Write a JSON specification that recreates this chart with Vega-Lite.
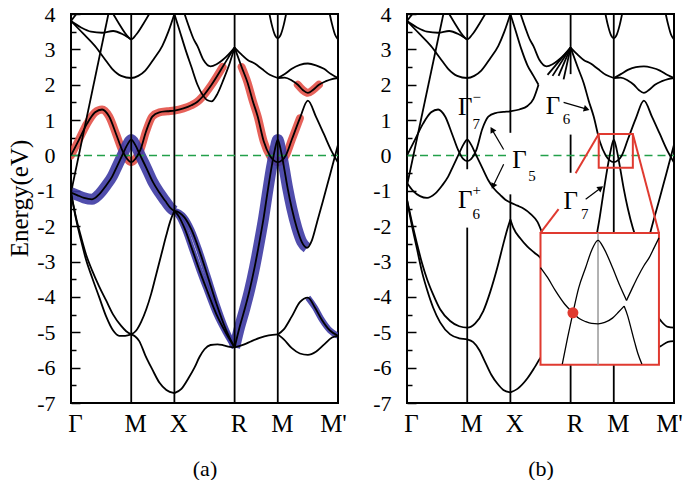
{
"$schema":"https://vega.github.io/schema/vega-lite/v6.json",
"padding":{"left":6,"top":2,"right":0,"bottom":0},
"config":{"view":{"stroke":"black","strokeWidth":2},"axis":{"labelFont":"Liberation Serif","titleFont":"Liberation Serif","labelColor":"#000","titleColor":"#000","grid":false,"domain":false,"tickColor":"#000","titleFontWeight":"normal"},"text":{"font":"Liberation Serif"}},
"datasets":{
"bands":[
{"p":"a","s":"a1","k":0,"e":0},{"p":"a","s":"a1","k":8,"e":0.45},{"p":"a","s":"a1","k":16,"e":0.9},{"p":"a","s":"a1","k":24,"e":1.22},{"p":"a","s":"a1","k":31,"e":1.3},{"p":"a","s":"a1","k":38,"e":1.1},{"p":"a","s":"a1","k":45,"e":0.6},{"p":"a","s":"a1","k":51,"e":0.15},{"p":"a","s":"a1","k":56,"e":-0.1},{"p":"a","s":"a1","k":60,"e":-0.19},{"p":"a","s":"a1","k":64,"e":-0.1},{"p":"a","s":"a1","k":69,"e":0.15},{"p":"a","s":"a1","k":75,"e":0.7},{"p":"a","s":"a1","k":81,"e":1.1},{"p":"a","s":"a1","k":88,"e":1.22},{"p":"a","s":"a1","k":96,"e":1.25},{"p":"a","s":"a1","k":103,"e":1.27},{"p":"a","s":"a1","k":112,"e":1.33},{"p":"a","s":"a1","k":120,"e":1.42},{"p":"a","s":"a1","k":126,"e":1.52},{"p":"a","s":"a1","k":131,"e":1.66},{"p":"a","s":"a1","k":140,"e":2.0},{"p":"a","s":"a1","k":151,"e":2.5},{"p":"a","s":"a1","k":157,"e":2.78},{"p":"a","s":"a1","k":163,"e":3.05},
{"p":"a","s":"a2","k":163,"e":3.05},{"p":"a","s":"a2","k":170,"e":2.5},{"p":"a","s":"a2","k":176,"e":2.05},{"p":"a","s":"a2","k":181,"e":1.55},{"p":"a","s":"a2","k":186,"e":1.1},{"p":"a","s":"a2","k":192,"e":0.4},{"p":"a","s":"a2","k":198,"e":0},{"p":"a","s":"a2","k":202,"e":-0.14},{"p":"a","s":"a2","k":206,"e":-0.19},{"p":"a","s":"a2","k":210,"e":-0.14},{"p":"a","s":"a2","k":214,"e":0},{"p":"a","s":"a2","k":220,"e":0.45},{"p":"a","s":"a2","k":228,"e":1.05},{"p":"a","s":"a2","k":236,"e":1.55},{"p":"a","s":"a2","k":244,"e":1.1},{"p":"a","s":"a2","k":252,"e":0.6},{"p":"a","s":"a2","k":260,"e":0.1},{"p":"a","s":"a2","k":266,"e":-0.2},
{"p":"a","s":"a3","k":0,"e":-1.05},{"p":"a","s":"a3","k":6,"e":-1.12},{"p":"a","s":"a3","k":13,"e":-1.2},{"p":"a","s":"a3","k":21,"e":-1.24},{"p":"a","s":"a3","k":28,"e":-1.1},{"p":"a","s":"a3","k":35,"e":-0.85},{"p":"a","s":"a3","k":41,"e":-0.6},{"p":"a","s":"a3","k":46,"e":-0.3},{"p":"a","s":"a3","k":51,"e":0},{"p":"a","s":"a3","k":56,"e":0.3},{"p":"a","s":"a3","k":60,"e":0.45},{"p":"a","s":"a3","k":64,"e":0.3},{"p":"a","s":"a3","k":69,"e":0},{"p":"a","s":"a3","k":75,"e":-0.35},{"p":"a","s":"a3","k":81,"e":-0.72},{"p":"a","s":"a3","k":88,"e":-1.05},{"p":"a","s":"a3","k":94,"e":-1.29},{"p":"a","s":"a3","k":99,"e":-1.48},{"p":"a","s":"a3","k":103,"e":-1.57},
{"p":"a","s":"a4","k":103,"e":-1.57},{"p":"a","s":"a4","k":108,"e":-1.62},{"p":"a","s":"a4","k":113,"e":-1.75},{"p":"a","s":"a4","k":120,"e":-2.1},{"p":"a","s":"a4","k":128,"e":-2.7},{"p":"a","s":"a4","k":136,"e":-3.4},{"p":"a","s":"a4","k":145,"e":-4.2},{"p":"a","s":"a4","k":154,"e":-4.9},{"p":"a","s":"a4","k":163,"e":-5.43},
{"p":"a","s":"a5","k":103,"e":-1.57},{"p":"a","s":"a5","k":108,"e":-1.75},{"p":"a","s":"a5","k":113,"e":-2.05},{"p":"a","s":"a5","k":120,"e":-2.6},{"p":"a","s":"a5","k":128,"e":-3.25},{"p":"a","s":"a5","k":136,"e":-3.85},{"p":"a","s":"a5","k":145,"e":-4.5},{"p":"a","s":"a5","k":154,"e":-5.0},{"p":"a","s":"a5","k":163,"e":-5.43},
{"p":"a","s":"a6","k":163,"e":-5.43},{"p":"a","s":"a6","k":168,"e":-4.85},{"p":"a","s":"a6","k":173,"e":-4.35},{"p":"a","s":"a6","k":178,"e":-3.8},{"p":"a","s":"a6","k":183,"e":-3.15},{"p":"a","s":"a6","k":188,"e":-2.4},{"p":"a","s":"a6","k":192,"e":-1.75},{"p":"a","s":"a6","k":196,"e":-1.0},{"p":"a","s":"a6","k":200,"e":-0.3},{"p":"a","s":"a6","k":203,"e":0.15},{"p":"a","s":"a6","k":206,"e":0.45},{"p":"a","s":"a6","k":209,"e":0.15},{"p":"a","s":"a6","k":212,"e":-0.3},{"p":"a","s":"a6","k":216,"e":-0.95},{"p":"a","s":"a6","k":220,"e":-1.5},{"p":"a","s":"a6","k":225,"e":-2.05},{"p":"a","s":"a6","k":230,"e":-2.45},{"p":"a","s":"a6","k":235,"e":-2.61},{"p":"a","s":"a6","k":240,"e":-2.4},{"p":"a","s":"a6","k":245,"e":-1.9},{"p":"a","s":"a6","k":251,"e":-1.29},{"p":"a","s":"a6","k":258,"e":-0.55},{"p":"a","s":"a6","k":266,"e":0.3},
{"p":"a","s":"a7","k":0,"e":-1.05},{"p":"a","s":"a7","k":5,"e":-1.8},{"p":"a","s":"a7","k":10,"e":-2.4},{"p":"a","s":"a7","k":15,"e":-2.95},{"p":"a","s":"a7","k":21,"e":-3.45},{"p":"a","s":"a7","k":28,"e":-4.0},{"p":"a","s":"a7","k":35,"e":-4.55},{"p":"a","s":"a7","k":42,"e":-4.95},{"p":"a","s":"a7","k":48,"e":-5.1},{"p":"a","s":"a7","k":54,"e":-5.1},{"p":"a","s":"a7","k":60,"e":-5.06},
{"p":"a","s":"a8","k":0,"e":-1.05},{"p":"a","s":"a8","k":5,"e":-1.75},{"p":"a","s":"a8","k":10,"e":-2.3},{"p":"a","s":"a8","k":15,"e":-2.8},{"p":"a","s":"a8","k":21,"e":-3.25},{"p":"a","s":"a8","k":28,"e":-3.7},{"p":"a","s":"a8","k":35,"e":-4.1},{"p":"a","s":"a8","k":42,"e":-4.5},{"p":"a","s":"a8","k":50,"e":-4.82},{"p":"a","s":"a8","k":55,"e":-4.97},{"p":"a","s":"a8","k":60,"e":-5.06},
{"p":"a","s":"a9","k":60,"e":-5.06},{"p":"a","s":"a9","k":65,"e":-4.95},{"p":"a","s":"a9","k":70,"e":-4.7},{"p":"a","s":"a9","k":75,"e":-4.35},{"p":"a","s":"a9","k":80,"e":-3.9},{"p":"a","s":"a9","k":85,"e":-3.35},{"p":"a","s":"a9","k":90,"e":-2.8},{"p":"a","s":"a9","k":95,"e":-2.25},{"p":"a","s":"a9","k":99,"e":-1.85},{"p":"a","s":"a9","k":103,"e":-1.57},
{"p":"a","s":"a10","k":60,"e":-5.06},{"p":"a","s":"a10","k":64,"e":-5.12},{"p":"a","s":"a10","k":68,"e":-5.25},{"p":"a","s":"a10","k":74,"e":-5.65},{"p":"a","s":"a10","k":81,"e":-6.05},{"p":"a","s":"a10","k":88,"e":-6.42},{"p":"a","s":"a10","k":95,"e":-6.63},{"p":"a","s":"a10","k":103,"e":-6.72},
{"p":"a","s":"a11","k":103,"e":-6.72},{"p":"a","s":"a11","k":110,"e":-6.6},{"p":"a","s":"a11","k":117,"e":-6.3},{"p":"a","s":"a11","k":123,"e":-6.0},{"p":"a","s":"a11","k":128,"e":-5.7},{"p":"a","s":"a11","k":133,"e":-5.48},{"p":"a","s":"a11","k":139,"e":-5.36},{"p":"a","s":"a11","k":146,"e":-5.34},{"p":"a","s":"a11","k":152,"e":-5.37},{"p":"a","s":"a11","k":158,"e":-5.41},{"p":"a","s":"a11","k":163,"e":-5.43},
{"p":"a","s":"a12","k":163,"e":-5.43},{"p":"a","s":"a12","k":172,"e":-5.35},{"p":"a","s":"a12","k":180,"e":-5.25},{"p":"a","s":"a12","k":188,"e":-5.16},{"p":"a","s":"a12","k":197,"e":-5.09},{"p":"a","s":"a12","k":206,"e":-5.06},
{"p":"a","s":"a13","k":206,"e":-5.06},{"p":"a","s":"a13","k":212,"e":-5.2},{"p":"a","s":"a13","k":220,"e":-5.45},{"p":"a","s":"a13","k":228,"e":-5.6},{"p":"a","s":"a13","k":236,"e":-5.64},{"p":"a","s":"a13","k":244,"e":-5.55},{"p":"a","s":"a13","k":252,"e":-5.35},{"p":"a","s":"a13","k":260,"e":-5.15},{"p":"a","s":"a13","k":266,"e":-5.1},
{"p":"a","s":"a14","k":206,"e":-5.06},{"p":"a","s":"a14","k":212,"e":-4.92},{"p":"a","s":"a14","k":220,"e":-4.55},{"p":"a","s":"a14","k":228,"e":-4.15},{"p":"a","s":"a14","k":236,"e":-4.02},{"p":"a","s":"a14","k":243,"e":-4.3},{"p":"a","s":"a14","k":250,"e":-4.65},{"p":"a","s":"a14","k":258,"e":-4.95},{"p":"a","s":"a14","k":266,"e":-5.1},
{"p":"a","s":"a15","k":0,"e":-1.05},{"p":"a","s":"a15","k":38,"e":4.1},
{"p":"a","s":"a16","k":0,"e":3.8},{"p":"a","s":"a16","k":10,"e":3.62},{"p":"a","s":"a16","k":20,"e":3.5},{"p":"a","s":"a16","k":31,"e":3.47},{"p":"a","s":"a16","k":42,"e":3.52},{"p":"a","s":"a16","k":52,"e":3.42},{"p":"a","s":"a16","k":60,"e":3.28},
{"p":"a","s":"a17","k":40,"e":4.1},{"p":"a","s":"a17","k":48,"e":3.72},{"p":"a","s":"a17","k":55,"e":3.42},{"p":"a","s":"a17","k":60,"e":3.28},{"p":"a","s":"a17","k":65,"e":3.42},{"p":"a","s":"a17","k":72,"e":3.72},{"p":"a","s":"a17","k":80,"e":4.1},
{"p":"a","s":"a18","k":0,"e":3.8},{"p":"a","s":"a18","k":12,"e":3.45},{"p":"a","s":"a18","k":24,"e":3.09},{"p":"a","s":"a18","k":33,"e":2.75},{"p":"a","s":"a18","k":41,"e":2.45},{"p":"a","s":"a18","k":50,"e":2.25},{"p":"a","s":"a18","k":60,"e":2.19},{"p":"a","s":"a18","k":67,"e":2.25},{"p":"a","s":"a18","k":74,"e":2.4},{"p":"a","s":"a18","k":83,"e":2.75},{"p":"a","s":"a18","k":91,"e":3.1},{"p":"a","s":"a18","k":97,"e":3.5},{"p":"a","s":"a18","k":103,"e":4.0},
{"p":"a","s":"a19","k":103,"e":4.0},{"p":"a","s":"a19","k":108,"e":3.55},{"p":"a","s":"a19","k":114,"e":3.0},{"p":"a","s":"a19","k":120,"e":2.5},{"p":"a","s":"a19","k":126,"e":2.0},{"p":"a","s":"a19","k":131,"e":1.72},{"p":"a","s":"a19","k":136,"e":1.56},{"p":"a","s":"a19","k":140,"e":1.53},{"p":"a","s":"a19","k":146,"e":1.75},{"p":"a","s":"a19","k":152,"e":2.15},{"p":"a","s":"a19","k":158,"e":2.6},{"p":"a","s":"a19","k":163,"e":3.05},
{"p":"a","s":"a20","k":112,"e":4.1},{"p":"a","s":"a20","k":118,"e":3.6},{"p":"a","s":"a20","k":122,"e":3.3},{"p":"a","s":"a20","k":126,"e":3.09},{"p":"a","s":"a20","k":132,"e":2.7},{"p":"a","s":"a20","k":139,"e":2.52},{"p":"a","s":"a20","k":145,"e":2.58},{"p":"a","s":"a20","k":151,"e":2.7},{"p":"a","s":"a20","k":157,"e":2.86},{"p":"a","s":"a20","k":163,"e":3.05},
{"p":"a","s":"a21","k":163,"e":3.05},{"p":"a","s":"a21","k":170,"e":2.85},{"p":"a","s":"a21","k":176,"e":2.7},{"p":"a","s":"a21","k":183,"e":2.6},{"p":"a","s":"a21","k":190,"e":2.45},{"p":"a","s":"a21","k":198,"e":2.28},{"p":"a","s":"a21","k":206,"e":2.19},
{"p":"a","s":"a22","k":206,"e":2.19},{"p":"a","s":"a22","k":213,"e":2.3},{"p":"a","s":"a22","k":220,"e":2.45},{"p":"a","s":"a22","k":228,"e":2.56},{"p":"a","s":"a22","k":236,"e":2.6},{"p":"a","s":"a22","k":244,"e":2.55},{"p":"a","s":"a22","k":252,"e":2.45},{"p":"a","s":"a22","k":259,"e":2.3},{"p":"a","s":"a22","k":266,"e":2.19},
{"p":"a","s":"a23","k":206,"e":2.19},{"p":"a","s":"a23","k":213,"e":2.2},{"p":"a","s":"a23","k":220,"e":2.12},{"p":"a","s":"a23","k":226,"e":2.0},{"p":"a","s":"a23","k":231,"e":1.85},{"p":"a","s":"a23","k":236,"e":1.77},{"p":"a","s":"a23","k":241,"e":1.85},{"p":"a","s":"a23","k":247,"e":2.0},{"p":"a","s":"a23","k":254,"e":2.1},{"p":"a","s":"a23","k":260,"e":2.16},{"p":"a","s":"a23","k":266,"e":2.19},
{"p":"a","s":"a24","k":197,"e":4.1},{"p":"a","s":"a24","k":200,"e":3.7},{"p":"a","s":"a24","k":203,"e":3.42},{"p":"a","s":"a24","k":206,"e":3.32},{"p":"a","s":"a24","k":209,"e":3.42},{"p":"a","s":"a24","k":212,"e":3.7},{"p":"a","s":"a24","k":215,"e":4.1},
{"p":"a","s":"a25","k":257,"e":4.1},{"p":"a","s":"a25","k":260,"e":3.72},{"p":"a","s":"a25","k":263,"e":3.42},{"p":"a","s":"a25","k":266,"e":3.28},
{"p":"a","s":"a26","k":0,"e":3.8},{"p":"a","s":"a26","k":8,"e":4.1},

{"p":"b","s":"b1","k":0,"e":0},{"p":"b","s":"b1","k":8,"e":0.45},{"p":"b","s":"b1","k":16,"e":0.9},{"p":"b","s":"b1","k":24,"e":1.22},{"p":"b","s":"b1","k":31,"e":1.3},{"p":"b","s":"b1","k":38,"e":1.1},{"p":"b","s":"b1","k":45,"e":0.6},{"p":"b","s":"b1","k":51,"e":0.15},{"p":"b","s":"b1","k":56,"e":-0.1},{"p":"b","s":"b1","k":60,"e":-0.16},{"p":"b","s":"b1","k":64,"e":-0.1},{"p":"b","s":"b1","k":69,"e":0.15},{"p":"b","s":"b1","k":75,"e":0.75},{"p":"b","s":"b1","k":81,"e":1.1},{"p":"b","s":"b1","k":88,"e":1.2},{"p":"b","s":"b1","k":96,"e":1.23},{"p":"b","s":"b1","k":103,"e":1.25},{"p":"b","s":"b1","k":112,"e":1.3},{"p":"b","s":"b1","k":120,"e":1.4},{"p":"b","s":"b1","k":126,"e":1.6},{"p":"b","s":"b1","k":131,"e":2.0},
{"p":"b","s":"b2","k":163,"e":3.05},{"p":"b","s":"b2","k":170,"e":2.5},{"p":"b","s":"b2","k":176,"e":2.05},{"p":"b","s":"b2","k":181,"e":1.55},{"p":"b","s":"b2","k":186,"e":1.1},{"p":"b","s":"b2","k":192,"e":0.4},{"p":"b","s":"b2","k":198,"e":0},{"p":"b","s":"b2","k":202,"e":-0.14},{"p":"b","s":"b2","k":206,"e":-0.19},{"p":"b","s":"b2","k":210,"e":-0.14},{"p":"b","s":"b2","k":214,"e":0},{"p":"b","s":"b2","k":220,"e":0.45},{"p":"b","s":"b2","k":228,"e":1.05},{"p":"b","s":"b2","k":236,"e":1.55},{"p":"b","s":"b2","k":244,"e":1.1},{"p":"b","s":"b2","k":252,"e":0.6},{"p":"b","s":"b2","k":260,"e":0.1},{"p":"b","s":"b2","k":266,"e":-0.2},
{"p":"b","s":"b3","k":0,"e":-0.78},{"p":"b","s":"b3","k":6,"e":-1.0},{"p":"b","s":"b3","k":13,"e":-1.15},{"p":"b","s":"b3","k":20,"e":-1.2},{"p":"b","s":"b3","k":28,"e":-1.08},{"p":"b","s":"b3","k":35,"e":-0.85},{"p":"b","s":"b3","k":41,"e":-0.6},{"p":"b","s":"b3","k":46,"e":-0.3},{"p":"b","s":"b3","k":51,"e":0},{"p":"b","s":"b3","k":56,"e":0.3},{"p":"b","s":"b3","k":60,"e":0.45},{"p":"b","s":"b3","k":64,"e":0.3},{"p":"b","s":"b3","k":69,"e":0},{"p":"b","s":"b3","k":75,"e":-0.35},{"p":"b","s":"b3","k":81,"e":-0.7},{"p":"b","s":"b3","k":87,"e":-0.95},{"p":"b","s":"b3","k":93,"e":-1.12},{"p":"b","s":"b3","k":98,"e":-1.25},{"p":"b","s":"b3","k":103,"e":-1.33},{"p":"b","s":"b3","k":110,"e":-1.42},{"p":"b","s":"b3","k":116,"e":-1.5},{"p":"b","s":"b3","k":123,"e":-1.65},{"p":"b","s":"b3","k":130,"e":-1.88},{"p":"b","s":"b3","k":136,"e":-2.3},{"p":"b","s":"b3","k":142,"e":-2.8},
{"p":"b","s":"b4","k":103,"e":-1.81},{"p":"b","s":"b4","k":106,"e":-2.05},{"p":"b","s":"b4","k":113,"e":-2.35},{"p":"b","s":"b4","k":120,"e":-2.58},{"p":"b","s":"b4","k":127,"e":-2.75},{"p":"b","s":"b4","k":133,"e":-2.9},{"p":"b","s":"b4","k":140,"e":-3.3},
{"p":"b","s":"b5","k":0,"e":-1.25},{"p":"b","s":"b5","k":5,"e":-1.9},{"p":"b","s":"b5","k":10,"e":-2.5},{"p":"b","s":"b5","k":15,"e":-3.05},{"p":"b","s":"b5","k":20,"e":-3.5},{"p":"b","s":"b5","k":26,"e":-3.93},{"p":"b","s":"b5","k":33,"e":-4.35},{"p":"b","s":"b5","k":43,"e":-4.68},{"p":"b","s":"b5","k":52,"e":-4.83},{"p":"b","s":"b5","k":60,"e":-4.87},{"p":"b","s":"b5","k":68,"e":-4.75},{"p":"b","s":"b5","k":76,"e":-4.4},{"p":"b","s":"b5","k":83,"e":-3.85},{"p":"b","s":"b5","k":90,"e":-3.17},{"p":"b","s":"b5","k":96,"e":-2.5},{"p":"b","s":"b5","k":100,"e":-2.08},{"p":"b","s":"b5","k":103,"e":-1.81},
{"p":"b","s":"b6","k":0,"e":-1.25},{"p":"b","s":"b6","k":5,"e":-2.0},{"p":"b","s":"b6","k":10,"e":-2.65},{"p":"b","s":"b6","k":15,"e":-3.3},{"p":"b","s":"b6","k":20,"e":-3.8},{"p":"b","s":"b6","k":26,"e":-4.3},{"p":"b","s":"b6","k":33,"e":-4.72},{"p":"b","s":"b6","k":43,"e":-5.06},{"p":"b","s":"b6","k":52,"e":-5.17},{"p":"b","s":"b6","k":60,"e":-5.2},{"p":"b","s":"b6","k":66,"e":-5.28},{"p":"b","s":"b6","k":72,"e":-5.5},{"p":"b","s":"b6","k":78,"e":-5.85},{"p":"b","s":"b6","k":84,"e":-6.2},{"p":"b","s":"b6","k":90,"e":-6.45},{"p":"b","s":"b6","k":96,"e":-6.63},{"p":"b","s":"b6","k":103,"e":-6.7},
{"p":"b","s":"b7","k":103,"e":-6.7},{"p":"b","s":"b7","k":110,"e":-6.6},{"p":"b","s":"b7","k":120,"e":-6.3},{"p":"b","s":"b7","k":127,"e":-6.0},{"p":"b","s":"b7","k":133,"e":-5.72},{"p":"b","s":"b7","k":140,"e":-5.5},
{"p":"b","s":"b8","k":163,"e":-5.43},{"p":"b","s":"b8","k":168,"e":-4.85},{"p":"b","s":"b8","k":173,"e":-4.35},{"p":"b","s":"b8","k":178,"e":-3.8},{"p":"b","s":"b8","k":183,"e":-3.15},{"p":"b","s":"b8","k":188,"e":-2.4},{"p":"b","s":"b8","k":192,"e":-1.75},{"p":"b","s":"b8","k":196,"e":-1.0},{"p":"b","s":"b8","k":200,"e":-0.3},{"p":"b","s":"b8","k":203,"e":0.15},{"p":"b","s":"b8","k":206,"e":0.45},{"p":"b","s":"b8","k":209,"e":0.15},{"p":"b","s":"b8","k":212,"e":-0.3},{"p":"b","s":"b8","k":216,"e":-0.95},{"p":"b","s":"b8","k":220,"e":-1.5},{"p":"b","s":"b8","k":225,"e":-2.05},{"p":"b","s":"b8","k":230,"e":-2.45},{"p":"b","s":"b8","k":235,"e":-2.61},{"p":"b","s":"b8","k":240,"e":-2.4},{"p":"b","s":"b8","k":245,"e":-1.9},{"p":"b","s":"b8","k":251,"e":-1.29},{"p":"b","s":"b8","k":258,"e":-0.55},{"p":"b","s":"b8","k":266,"e":0.3},
{"p":"b","s":"b9","k":206,"e":-4.87},{"p":"b","s":"b9","k":220,"e":-4.3},{"p":"b","s":"b9","k":236,"e":-4.0},{"p":"b","s":"b9","k":246,"e":-4.4},{"p":"b","s":"b9","k":253,"e":-4.68},{"p":"b","s":"b9","k":260,"e":-4.85},{"p":"b","s":"b9","k":266,"e":-4.87},
{"p":"b","s":"b10","k":206,"e":-5.2},{"p":"b","s":"b10","k":220,"e":-5.45},{"p":"b","s":"b10","k":236,"e":-5.6},{"p":"b","s":"b10","k":246,"e":-5.5},{"p":"b","s":"b10","k":253,"e":-5.39},{"p":"b","s":"b10","k":260,"e":-5.27},{"p":"b","s":"b10","k":266,"e":-5.25},
{"p":"b","s":"b11","k":0,"e":-0.85},{"p":"b","s":"b11","k":37,"e":4.1},
{"p":"b","s":"b12","k":0,"e":3.8},{"p":"b","s":"b12","k":10,"e":3.62},{"p":"b","s":"b12","k":20,"e":3.5},{"p":"b","s":"b12","k":31,"e":3.47},{"p":"b","s":"b12","k":42,"e":3.52},{"p":"b","s":"b12","k":52,"e":3.42},{"p":"b","s":"b12","k":60,"e":3.28},
{"p":"b","s":"b13","k":40,"e":4.1},{"p":"b","s":"b13","k":48,"e":3.72},{"p":"b","s":"b13","k":55,"e":3.42},{"p":"b","s":"b13","k":60,"e":3.28},{"p":"b","s":"b13","k":65,"e":3.42},{"p":"b","s":"b13","k":72,"e":3.72},{"p":"b","s":"b13","k":80,"e":4.1},
{"p":"b","s":"b14","k":0,"e":3.8},{"p":"b","s":"b14","k":12,"e":3.45},{"p":"b","s":"b14","k":24,"e":3.09},{"p":"b","s":"b14","k":33,"e":2.75},{"p":"b","s":"b14","k":41,"e":2.45},{"p":"b","s":"b14","k":50,"e":2.25},{"p":"b","s":"b14","k":60,"e":2.19},{"p":"b","s":"b14","k":67,"e":2.25},{"p":"b","s":"b14","k":74,"e":2.4},{"p":"b","s":"b14","k":83,"e":2.75},{"p":"b","s":"b14","k":91,"e":3.1},{"p":"b","s":"b14","k":97,"e":3.5},{"p":"b","s":"b14","k":103,"e":4.0},
{"p":"b","s":"b15","k":103,"e":4.0},{"p":"b","s":"b15","k":108,"e":3.55},{"p":"b","s":"b15","k":114,"e":3.0},{"p":"b","s":"b15","k":120,"e":2.55},{"p":"b","s":"b15","k":126,"e":2.25},{"p":"b","s":"b15","k":131,"e":2.0},
{"p":"b","s":"b16","k":112,"e":4.1},{"p":"b","s":"b16","k":118,"e":3.6},{"p":"b","s":"b16","k":122,"e":3.3},{"p":"b","s":"b16","k":126,"e":3.09},{"p":"b","s":"b16","k":132,"e":2.7},{"p":"b","s":"b16","k":139,"e":2.52},{"p":"b","s":"b16","k":145,"e":2.58},{"p":"b","s":"b16","k":151,"e":2.7},{"p":"b","s":"b16","k":157,"e":2.86},{"p":"b","s":"b16","k":163,"e":3.05},
{"p":"b","s":"b17","k":140,"e":2.28},{"p":"b","s":"b17","k":163,"e":3.05},
{"p":"b","s":"b18","k":145,"e":2.25},{"p":"b","s":"b18","k":163,"e":3.05},
{"p":"b","s":"b19","k":151,"e":2.25},{"p":"b","s":"b19","k":163,"e":3.05},
{"p":"b","s":"b20","k":156,"e":2.15},{"p":"b","s":"b20","k":163,"e":3.05},
{"p":"b","s":"b21","k":163,"e":3.05},{"p":"b","s":"b21","k":170,"e":2.85},{"p":"b","s":"b21","k":176,"e":2.7},{"p":"b","s":"b21","k":183,"e":2.6},{"p":"b","s":"b21","k":190,"e":2.45},{"p":"b","s":"b21","k":198,"e":2.28},{"p":"b","s":"b21","k":206,"e":2.19},
{"p":"b","s":"b22","k":206,"e":2.19},{"p":"b","s":"b22","k":213,"e":2.3},{"p":"b","s":"b22","k":220,"e":2.42},{"p":"b","s":"b22","k":228,"e":2.5},{"p":"b","s":"b22","k":236,"e":2.52},{"p":"b","s":"b22","k":244,"e":2.48},{"p":"b","s":"b22","k":252,"e":2.4},{"p":"b","s":"b22","k":259,"e":2.28},{"p":"b","s":"b22","k":266,"e":2.19},
{"p":"b","s":"b23","k":206,"e":2.19},{"p":"b","s":"b23","k":213,"e":2.2},{"p":"b","s":"b23","k":220,"e":2.12},{"p":"b","s":"b23","k":226,"e":2.0},{"p":"b","s":"b23","k":231,"e":1.85},{"p":"b","s":"b23","k":236,"e":1.77},{"p":"b","s":"b23","k":241,"e":1.85},{"p":"b","s":"b23","k":247,"e":2.0},{"p":"b","s":"b23","k":254,"e":2.1},{"p":"b","s":"b23","k":260,"e":2.16},{"p":"b","s":"b23","k":266,"e":2.19},
{"p":"b","s":"b24","k":197,"e":4.1},{"p":"b","s":"b24","k":200,"e":3.7},{"p":"b","s":"b24","k":203,"e":3.42},{"p":"b","s":"b24","k":206,"e":3.32},{"p":"b","s":"b24","k":209,"e":3.42},{"p":"b","s":"b24","k":212,"e":3.7},{"p":"b","s":"b24","k":215,"e":4.1},
{"p":"b","s":"b25","k":257,"e":4.1},{"p":"b","s":"b25","k":260,"e":3.72},{"p":"b","s":"b25","k":263,"e":3.42},{"p":"b","s":"b25","k":266,"e":3.28},
{"p":"b","s":"b26","k":0,"e":3.8},{"p":"b","s":"b26","k":8,"e":4.1}
],
"vlines":[
{"p":"a","k":60,"e":4,"e2":-7},{"p":"a","k":103,"e":4,"e2":-7},{"p":"a","k":163,"e":4,"e2":-7},{"p":"a","k":206,"e":4,"e2":-7},
{"p":"b","k":60,"e":4,"e2":-0.39},{"p":"b","k":60,"e":-2.04,"e2":-7},{"p":"b","k":103,"e":4,"e2":0.64},{"p":"b","k":103,"e":-1.1,"e2":-7},{"p":"b","k":163,"e":4,"e2":2.3},{"p":"b","k":163,"e":0.59,"e2":-0.49},{"p":"b","k":163,"e":-5.92,"e2":-7},{"p":"b","k":206,"e":4,"e2":-7}
],
"zero":[{"p":"a","k":0,"k2":266,"e":0},{"p":"b","k":0,"k2":100,"e":0},{"p":"b","k":133,"k2":266,"e":0}],
"boxes":[{"id":"big","k":133,"k2":251,"e":-2.19,"e2":-5.92},{"id":"small","k":191,"k2":225,"e":0.61,"e2":-0.35}],
"conn":[{"k":191,"e":0.61,"k2":168,"e2":-0.5},{"k":151,"e":-1.52,"k2":133,"e2":-2.19},{"k":225,"e":0.61,"k2":251,"e2":-2.19}],
"mline":[{"k":190.3,"e":-2.19,"e2":-5.92}],
"inset":[
{"s":"i1a","k":154.7,"e":-5.9},{"s":"i1a","k":160,"e":-5.15},{"s":"i1a","k":165.3,"e":-4.45},{"s":"i1a","k":171,"e":-3.75},{"s":"i1a","k":178,"e":-3.17},{"s":"i1a","k":184,"e":-2.68},{"s":"i1a","k":190.3,"e":-2.4},{"s":"i1a","k":196,"e":-2.62},{"s":"i1a","k":204.7,"e":-3.17},{"s":"i1a","k":212,"e":-3.68},{"s":"i1a","k":218.7,"e":-4.1},
{"s":"i1b","k":218.7,"e":-4.1},{"s":"i1b","k":224,"e":-3.78},{"s":"i1b","k":230,"e":-3.43},{"s":"i1b","k":236,"e":-3.12},{"s":"i1b","k":241.3,"e":-2.89},{"s":"i1b","k":246,"e":-2.62},{"s":"i1b","k":251,"e":-2.33},
{"s":"i2a","k":133,"e":-3.17},{"s":"i2a","k":140,"e":-3.45},{"s":"i2a","k":148,"e":-3.83},{"s":"i2a","k":157,"e":-4.2},{"s":"i2a","k":165.3,"e":-4.45},{"s":"i2a","k":172,"e":-4.62},{"s":"i2a","k":178,"e":-4.7},{"s":"i2a","k":184,"e":-4.75},{"s":"i2a","k":190.3,"e":-4.76},{"s":"i2a","k":197,"e":-4.72},{"s":"i2a","k":204.7,"e":-4.6},{"s":"i2a","k":211,"e":-4.42},{"s":"i2a","k":216.3,"e":-4.26},
{"s":"i2b","k":216.3,"e":-4.26},{"s":"i2b","k":220,"e":-4.55},{"s":"i2b","k":223,"e":-4.87},{"s":"i2b","k":227,"e":-5.3},{"s":"i2b","k":230,"e":-5.6},{"s":"i2b","k":234,"e":-5.9}
],
"dot":[{"k":165.3,"e":-4.45}],
"arrows":[{"id":"g7m","k":84.7,"e":0.73,"k2":96.3,"e2":0.17},{"id":"g6p","k":85.7,"e":-0.87,"k2":96.3,"e2":-0.25},{"id":"g6","k":179,"e":1.31,"k2":156,"e2":1.5},{"id":"g7","k":193,"e":-0.92,"k2":178,"e2":-1.24}],
"labels":[
{"t":"Γ","kind":"m","k":58,"e":1.37},{"t":"−","kind":"s","k":69.5,"e":1.65},{"t":"7","kind":"s","k":69,"e":0.9},
{"t":"Γ","kind":"m","k":112,"e":-0.13},{"t":"5","kind":"s","k":124.5,"e":-0.59},
{"t":"Γ","kind":"m","k":58,"e":-1.26},{"t":"+","kind":"s","k":69.5,"e":-0.98},{"t":"6","kind":"s","k":69,"e":-1.66},
{"t":"Γ","kind":"m","k":145.5,"e":1.39},{"t":"6","kind":"s","k":159,"e":1.02},
{"t":"Γ","kind":"m","k":163,"e":-1.29},{"t":"7","kind":"s","k":177,"e":-1.66}
]
},
"spacing":23,
"hconcat":[
{
"width":267,"height":389,
"encoding":{
"x":{"field":"k","type":"quantitative","scale":{"domain":[0,266],"nice":false,"zero":false},"axis":{"values":[0,60,103,163,206,266],"labelExpr":"datum.value==0?'Γ':datum.value==60?'M':datum.value==103?'X':datum.value==163?'R':datum.value==206?'M':\"M'\"","ticks":false,"labelFont":"Liberation Serif","labelFontSize":25,"labelPadding":8,"labelOffset":{"condition":{"test":"datum.value==266","value":-5},"value":4},"labelFlush":false,"labelOverlap":false,"title":"(a)","titleFontSize":22,"titlePadding":22}},
"y":{"field":"e","type":"quantitative","scale":{"domain":[-7,4],"nice":false,"zero":false},"axis":{"values":[-7,-6.5,-6,-5.5,-5,-4.5,-4,-3.5,-3,-2.5,-2,-1.5,-1,-0.5,0,0.5,1,1.5,2,2.5,3,3.5,4],"labelExpr":"datum.value % 1 === 0 ? '' + datum.value : ''","labelFont":"Liberation Serif","labelFontSize":22,"labelOverlap":false,"labelPadding":25,"tickSize":{"condition":{"test":"datum.value % 1 === 0","value":-9},"value":-5},"tickWidth":1.5,"title":"Energy(eV)","titleFontSize":25,"titleAngle":-90,"titleX":-44,"titleY":184,"titleAlign":"center","titleBaseline":"alphabetic"}}
},
"layer":[
{"data":{"name":"bands"},"transform":[{"filter":"datum.p=='a' && ((datum.s=='a1' && datum.k<=151) || (datum.s=='a2' && datum.k>=170 && datum.k<=228) || (datum.s=='a23' && datum.k>=226 && datum.k<=247))"}],"mark":{"type":"line","color":"#e2453c","opacity":0.85,"strokeWidth":8,"interpolate":"monotone","strokeCap":"round","clip":true},"encoding":{"detail":{"field":"s"}}},
{"data":{"name":"bands"},"transform":[{"filter":"datum.p=='a' && (datum.s=='a3' || (datum.s=='a6' && datum.k<=236))"}],"mark":{"type":"line","color":"#3d3aa3","opacity":0.9,"strokeWidth":11,"interpolate":"monotone","strokeCap":"butt","clip":true},"encoding":{"detail":{"field":"s"}}},
{"data":{"name":"bands"},"transform":[{"filter":"datum.p=='a' && (datum.s=='a4' || datum.s=='a5' || (datum.s=='a14' && datum.k>=236))"}],"mark":{"type":"line","color":"#3d3aa3","opacity":0.9,"strokeWidth":6,"interpolate":"monotone","clip":true},"encoding":{"detail":{"field":"s"}}},
{"data":{"name":"vlines"},"transform":[{"filter":"datum.p=='a'"}],"mark":{"type":"rule","color":"#000","strokeWidth":1.8},"encoding":{"y2":{"field":"e2"}}},
{"data":{"name":"zero"},"transform":[{"filter":"datum.p=='a'"}],"mark":{"type":"rule","color":"#22a04a","strokeWidth":1.5,"strokeDash":[8,5]},"encoding":{"x2":{"field":"k2"}}},
{"data":{"name":"bands"},"transform":[{"filter":"datum.p=='a'"}],"mark":{"type":"line","color":"#000","strokeWidth":1.8,"interpolate":"monotone","clip":true},"encoding":{"detail":{"field":"s"}}}
]
},
{
"width":267,"height":389,
"encoding":{
"x":{"field":"k","type":"quantitative","scale":{"domain":[0,266],"nice":false,"zero":false},"axis":{"values":[0,60,103,163,206,266],"labelExpr":"datum.value==0?'Γ':datum.value==60?'M':datum.value==103?'X':datum.value==163?'R':datum.value==206?'M':\"M'\"","ticks":false,"labelFont":"Liberation Serif","labelFontSize":25,"labelPadding":8,"labelOffset":{"condition":{"test":"datum.value==266","value":-5},"value":4},"labelFlush":false,"labelOverlap":false,"title":"(b)","titleFontSize":22,"titlePadding":22}},
"y":{"field":"e","type":"quantitative","scale":{"domain":[-7,4],"nice":false,"zero":false},"axis":{"values":[-7,-6.5,-6,-5.5,-5,-4.5,-4,-3.5,-3,-2.5,-2,-1.5,-1,-0.5,0,0.5,1,1.5,2,2.5,3,3.5,4],"labelExpr":"datum.value % 1 === 0 ? '' + datum.value : ''","labelFont":"Liberation Serif","labelFontSize":22,"labelOverlap":false,"labelPadding":25,"tickSize":{"condition":{"test":"datum.value % 1 === 0","value":-9},"value":-5},"tickWidth":1.5,"title":null}}
},
"layer":[
{"data":{"name":"vlines"},"transform":[{"filter":"datum.p=='b'"}],"mark":{"type":"rule","color":"#000","strokeWidth":1.8},"encoding":{"y2":{"field":"e2"}}},
{"data":{"name":"zero"},"transform":[{"filter":"datum.p=='b'"}],"mark":{"type":"rule","color":"#22a04a","strokeWidth":1.5,"strokeDash":[8,5]},"encoding":{"x2":{"field":"k2"}}},
{"data":{"name":"bands"},"transform":[{"filter":"datum.p=='b'"}],"mark":{"type":"line","color":"#000","strokeWidth":1.8,"interpolate":"monotone","clip":true},"encoding":{"detail":{"field":"s"}}},
{"data":{"name":"boxes"},"transform":[{"filter":"datum.id=='big'"}],"mark":{"type":"rect","fill":"#fff","stroke":"#e03a30","strokeWidth":2},"encoding":{"x2":{"field":"k2"},"y2":{"field":"e2"}}},
{"data":{"name":"boxes"},"transform":[{"filter":"datum.id=='small'"}],"mark":{"type":"rect","filled":false,"stroke":"#e03a30","strokeWidth":2},"encoding":{"x2":{"field":"k2"},"y2":{"field":"e2"}}},
{"data":{"name":"conn"},"mark":{"type":"rule","color":"#e03a30","strokeWidth":2},"encoding":{"x2":{"field":"k2"},"y2":{"field":"e2"}}},
{"data":{"name":"mline"},"mark":{"type":"rule","color":"#999","strokeWidth":1.5},"encoding":{"y2":{"field":"e2"}}},
{"data":{"name":"inset"},"mark":{"type":"line","color":"#000","strokeWidth":1.3,"interpolate":"monotone"},"encoding":{"detail":{"field":"s"}}},
{"data":{"name":"dot"},"mark":{"type":"point","filled":true,"color":"#e03a30","opacity":1,"size":120},"encoding":{}},
{"data":{"name":"arrows"},"mark":{"type":"rule","color":"#000","strokeWidth":1.2},"encoding":{"x2":{"field":"k2"},"y2":{"field":"e2"}}},
{"data":{"name":"arrows"},"transform":[{"filter":"datum.id=='g7m'"}],"mark":{"type":"point","shape":"triangle-up","filled":true,"color":"#000","opacity":1,"size":45,"angle":330},"encoding":{}},
{"data":{"name":"arrows"},"transform":[{"filter":"datum.id=='g6p'"}],"mark":{"type":"point","shape":"triangle-up","filled":true,"color":"#000","opacity":1,"size":45,"angle":206},"encoding":{}},
{"data":{"name":"arrows"},"transform":[{"filter":"datum.id=='g6'"}],"mark":{"type":"point","shape":"triangle-up","filled":true,"color":"#000","opacity":1,"size":45,"angle":106},"encoding":{}},
{"data":{"name":"arrows"},"transform":[{"filter":"datum.id=='g7'"}],"mark":{"type":"point","shape":"triangle-up","filled":true,"color":"#000","opacity":1,"size":45,"angle":53},"encoding":{}},
{"data":{"name":"labels"},"transform":[{"filter":"datum.kind=='m'"}],"mark":{"type":"text","fontSize":25,"font":"Liberation Serif","color":"#000","align":"center","baseline":"middle"},"encoding":{"text":{"field":"t"}}},
{"data":{"name":"labels"},"transform":[{"filter":"datum.kind=='s'"}],"mark":{"type":"text","fontSize":15,"font":"Liberation Serif","color":"#000","align":"center","baseline":"middle"},"encoding":{"text":{"field":"t"}}}
]
}
]
}
